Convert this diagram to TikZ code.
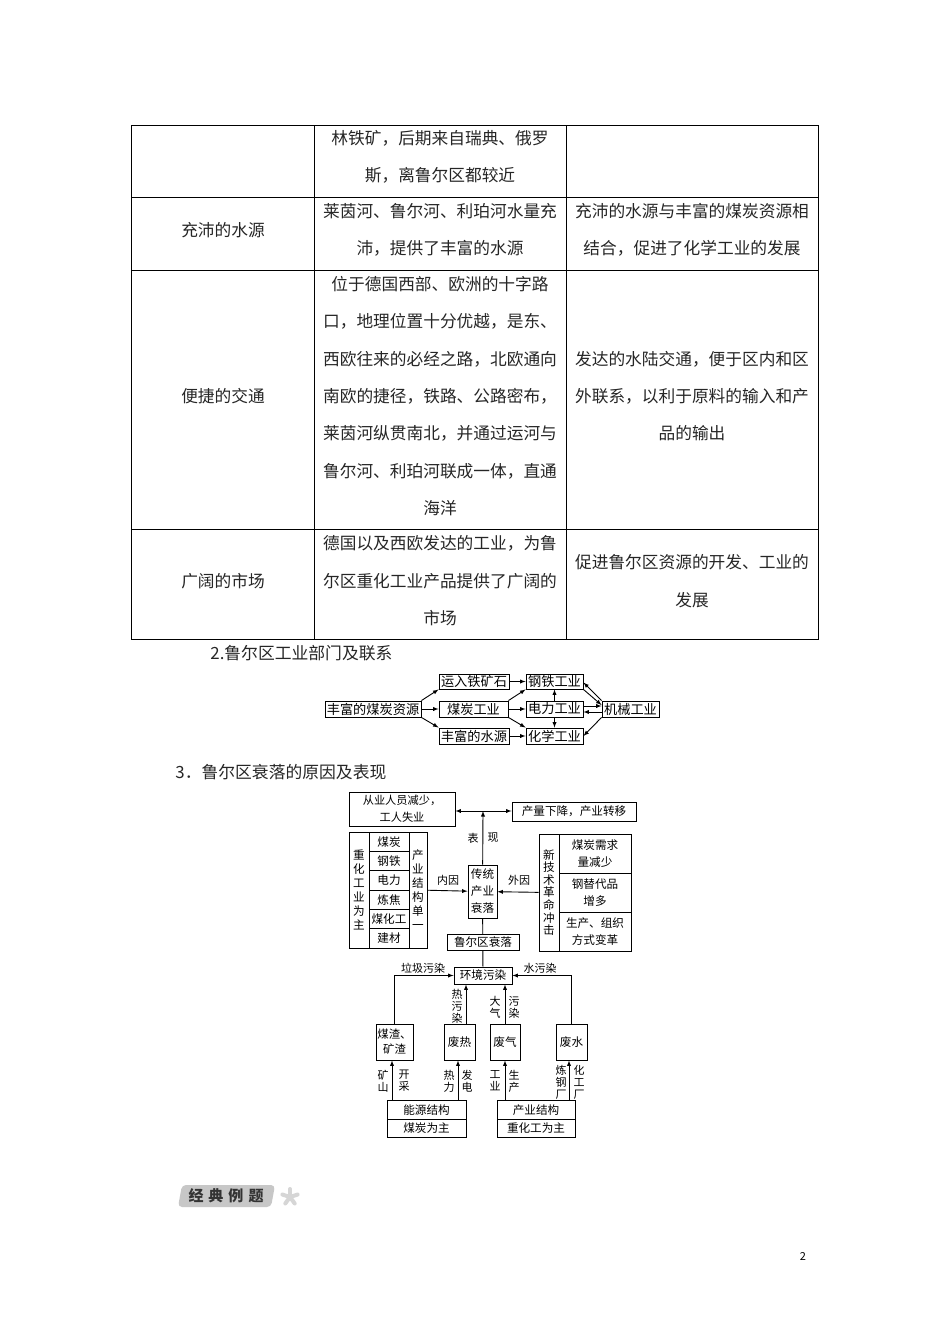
\documentclass[tikz,border=0pt]{standalone}
\usepackage{fontspec}
\setmainfont{Noto Sans CJK SC}
\usepackage{tikz}
\usetikzlibrary{calc}

\begin{document}
\begin{tikzpicture}[x=1pt, y=-1pt, >=latex, line width=0.9pt,
    cell/.style={inner sep=0pt, align=center, text=black!85, font=\fontsize{16.7}{37.4}\selectfont},
    head/.style={inner sep=0pt, anchor=west, text=black!85, font=\fontsize{16.8}{18}\selectfont},
    linkbox/.style={draw, inner sep=0pt, font=\fontsize{13.2}{14}\selectfont},
    fallbox/.style={draw, inner sep=0pt, align=center, font=\fontsize{11.6}{14}\selectfont},
    tag/.style={inner sep=0pt, align=center, font=\fontsize{11}{12.2}\selectfont}]
  \useasboundingbox (0,0) rectangle (950,1344);
  \fill[white] (0,0) rectangle (950,1344);

  % table
  \draw (131,125) rectangle (818,639);
  \draw (314,125) -- (314,639);
  \draw (566,125) -- (566,639);
  \draw (131,197) -- (818,197);
  \draw (131,270) -- (818,270);
  \draw (131,529) -- (818,529);

  \node[cell] (ore2) at (440,157) {林铁矿，后期来自瑞典、俄罗\\斯，离鲁尔区都较近};
  \node[cell] (water1) at (223,230) {充沛的水源};
  \node[cell] (water2) at (440,230) {莱茵河、鲁尔河、利珀河水量充\\沛，提供了丰富的水源};
  \node[cell] (water3) at (692,230) {充沛的水源与丰富的煤炭资源相\\结合，促进了化学工业的发展};
  \node[cell] (road1) at (223,396) {便捷的交通};
  \node[cell] (road2) at (440,396) {位于德国西部、欧洲的十字路\\口，地理位置十分优越，是东、\\西欧往来的必经之路，北欧通向\\南欧的捷径，铁路、公路密布，\\莱茵河纵贯南北，并通过运河与\\鲁尔河、利珀河联成一体，直通\\海洋};
  \node[cell] (road3) at (692,396) {发达的水陆交通，便于区内和区\\外联系，以利于原料的输入和产\\品的输出};
  \node[cell] (market1) at (223,581) {广阔的市场};
  \node[cell] (market2) at (440,581) {德国以及西欧发达的工业，为鲁\\尔区重化工业产品提供了广阔的\\市场};
  \node[cell] (market3) at (692,581) {促进鲁尔区资源的开发、工业的\\发展};

  \node[head] (title2) at (210,653) {2.鲁尔区工业部门及联系};
  \node[head] (title3) at (175,772) {3．鲁尔区衰落的原因及表现};

  % links between the industries
  \node[linkbox, minimum width=96pt, minimum height=16pt] (coalres) at (373,709) {丰富的煤炭资源};
  \node[linkbox, minimum width=70pt, minimum height=15pt] (ore) at (474,681.5) {运入铁矿石};
  \node[linkbox, minimum width=69pt, minimum height=16pt] (coalind) at (473.5,709) {煤炭工业};
  \node[linkbox, minimum width=70pt, minimum height=16pt] (water) at (474,736) {丰富的水源};
  \node[linkbox, minimum width=57pt, minimum height=15pt] (steel) at (554.5,681.5) {钢铁工业};
  \node[linkbox, minimum width=57pt, minimum height=16pt] (power) at (554.5,709) {电力工业};
  \node[linkbox, minimum width=57pt, minimum height=16pt] (chem) at (554.5,736) {化学工业};
  \node[linkbox, minimum width=57pt, minimum height=16pt] (mach) at (630.5,709) {机械工业};

  \draw[->] (coalres.north east) -- (ore.south west);
  \draw[->] (coalres) -- (coalind);
  \draw[->] (coalres.south east) -- (water.north west);
  \draw[->] (ore) -- (steel);
  \draw[->] (coalind.north east) -- (steel.south west);
  \draw[->] (coalind) -- (power);
  \draw[->] (coalind.south east) -- (chem.north west);
  \draw[->] (water) -- (chem);
  \draw[->] (power) -- (steel);
  \draw[->] (power) -- (chem);
  \draw[->] ([yshift=3pt]power.east) -- ([yshift=3pt]mach.west);
  \draw[->] ([yshift=-3pt]mach.west) -- ([yshift=-3pt]power.east);
  \draw[->] (mach.north west) -- ([yshift=-1pt]steel.east);
  \draw[->] (steel.south east) -- ([yshift=4pt]mach.west);
  \draw[->] (mach.south west) -- (chem.east);

  % decline of the region
  \node[fallbox, minimum width=106pt, minimum height=34pt, font=\fontsize{11.2}{17}\selectfont] (jobs) at (402,809) {从业人员减少，\\工人失业};
  \node[fallbox, minimum width=124pt, minimum height=19pt] (prod) at (574,811.5) {产量下降，产业转移};
  \node[fallbox, minimum width=29pt, minimum height=53pt, font=\fontsize{11.6}{17}\selectfont] (trad) at (482.5,891.5) {传统\\产业\\衰落};
  \coordinate (split) at (483,811);

  \node[fallbox, minimum width=20pt, minimum height=116pt] (heavy) at (359,890) {重\\化\\工\\业\\为\\主};
  \node[fallbox, minimum width=40pt, minimum height=19.33pt] (item1) at (389,841.7) {煤炭};
  \node[fallbox, minimum width=40pt, minimum height=19.33pt] (item2) at (389,861) {钢铁};
  \node[fallbox, minimum width=40pt, minimum height=19.33pt] (item3) at (389,880.3) {电力};
  \node[fallbox, minimum width=40pt, minimum height=19.33pt] (item4) at (389,899.7) {炼焦};
  \node[fallbox, minimum width=40pt, minimum height=19.33pt] (item5) at (389,919) {煤化工};
  \node[fallbox, minimum width=40pt, minimum height=19.33pt] (item6) at (389,938.3) {建材};
  \node[fallbox, minimum width=18pt, minimum height=116pt] (single) at (418,890) {产\\业\\结\\构\\单\\一};

  \node[fallbox, minimum width=20pt, minimum height=117pt, font=\fontsize{11.6}{12.6}\selectfont] (tech) at (549,892.5) {新\\技\\术\\革\\命\\冲\\击};
  \node[fallbox, minimum width=72pt, minimum height=39pt, font=\fontsize{11.6}{17}\selectfont] (need) at (595,853.5) {煤炭需求\\量减少};
  \node[fallbox, minimum width=72pt, minimum height=39pt, font=\fontsize{11.6}{17}\selectfont] (subst) at (595,892.5) {钢替代品\\增多};
  \node[fallbox, minimum width=72pt, minimum height=39pt, font=\fontsize{11.6}{17}\selectfont] (change) at (595,931.5) {生产、组织\\方式变革};

  \node[fallbox, minimum width=58pt, minimum height=17pt] (env) at (483,975.5) {环境污染};
  \draw (trad) -- (env);
  \node[fallbox, fill=white, minimum width=72pt, minimum height=16pt] (decline) at (483,942) {鲁尔区衰落};

  \draw[->] (trad) -- (split);
  \draw[<->] (jobs.east |- split) -- (prod.west |- split);
  \draw[->] (single) -- (trad);
  \draw[->] (tech) -- (trad);
  \node[tag] (show1) at (473,838) {表};
  \node[tag] (show2) at (493,838) {现};
  \node[tag] (inner) at (448,880) {内因};
  \node[tag] (outer) at (519,880) {外因};

  \node[fallbox, minimum width=37pt, minimum height=36pt, font=\fontsize{11.4}{15}\selectfont] (slag) at (394.5,1042) {煤渣、\\矿渣};
  \node[fallbox, minimum width=31pt, minimum height=36pt] (heat) at (459.5,1042) {废热};
  \node[fallbox, minimum width=30pt, minimum height=36pt] (gas) at (505,1042) {废气};
  \node[fallbox, minimum width=31pt, minimum height=36pt] (sewage) at (571.5,1042) {废水};

  \node[fallbox, minimum width=79pt, minimum height=18.5pt] (energy1) at (426.5,1110) {能源结构};
  \node[fallbox, minimum width=79pt, minimum height=18.5pt] (energy2) at (426.5,1128.5) {煤炭为主};
  \node[fallbox, minimum width=78pt, minimum height=18.5pt] (indus1) at (536,1110) {产业结构};
  \node[fallbox, minimum width=78pt, minimum height=18.5pt] (indus2) at (536,1128.5) {重化工为主};

  \draw[->] (slag.north) |- (env.west);
  \draw[->] (sewage.north) |- (env.east);
  \draw[->] ([xshift=6.5pt]heat.north) -- ([xshift=6.5pt]heat.north |- env.south);
  \draw[->] (gas.north) -- (gas.north |- env.south);
  \draw[->] ([xshift=-2.5pt]energy1.north -| slag.south) -- ([xshift=-2.5pt]slag.south);
  \draw[->] ([xshift=-1.5pt]energy1.north -| heat.south) -- ([xshift=-1.5pt]heat.south);
  \draw[->] (indus1.north -| gas.south) -- (gas.south);
  \draw[->] ([xshift=-2.5pt]indus1.north -| sewage.south) -- ([xshift=-2.5pt]sewage.south);

  \node[tag] (waste) at (423,968) {垃圾污染};
  \node[tag] (wet) at (540,968) {水污染};
  \node[tag] (hot) at (457,1006) {热\\污\\染};
  \node[tag] (air1) at (495,1007) {大\\气};
  \node[tag] (air2) at (514,1007) {污\\染};
  \node[tag] (mine1) at (383,1081) {矿\\山};
  \node[tag] (mine2) at (404,1081) {开\\采};
  \node[tag] (therm1) at (449,1081) {热\\力};
  \node[tag] (therm2) at (467,1081) {发\\电};
  \node[tag] (work1) at (495,1081) {工\\业};
  \node[tag] (work2) at (514,1081) {生\\产};
  \node[tag] (plant1) at (561,1082) {炼\\钢\\厂};
  \node[tag] (plant2) at (579,1082) {化\\工\\厂};

  % example banner
  \fill[black!22, rounded corners=4pt] (182,1185) -- (275,1185) -- (271,1207) -- (178,1207) -- cycle;
  \node[inner sep=0pt, text=black!80, font=\fontsize{15}{16}\selectfont\bfseries] (banner) at (226,1196) {经\,\,典\,\,例\,\,题};
  \foreach \a in {90,162,234,306,18}
    \draw[black!16, line width=4pt, line cap=round] (290,1197) -- ++(\a:8pt);

  \node[inner sep=0pt, font=\fontsize{11}{13}\selectfont] (pageno) at (803,1256) {2};
\end{tikzpicture}
\end{document}
